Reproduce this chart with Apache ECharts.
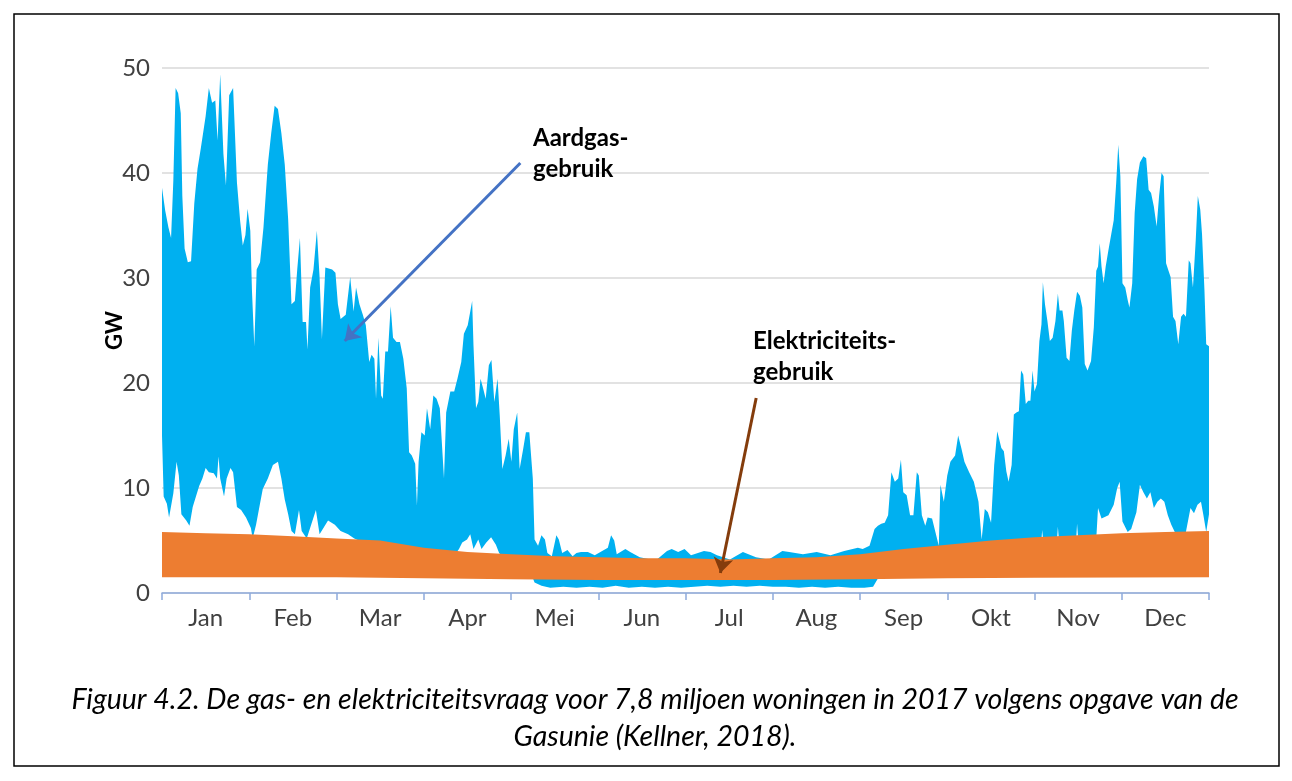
<!DOCTYPE html>
<html>
<head>
<meta charset="utf-8">
<script src="https://cdn.jsdelivr.net/npm/echarts@6/dist/echarts.min.js"></script>
<style>
html,body{margin:0;padding:0;background:#fff;}
#c{width:1292px;height:781px;}
</style>
</head>
<body>
<div id="c"></div>
<script>
// Month categories (x positions are in "month units": 0 = start of Jan, 12 = end of Dec)
var months = ['Jan','Feb','Mar','Apr','Mei','Jun','Jul','Aug','Sep','Okt','Nov','Dec'];
var yTicks = [0, 10, 20, 30, 40, 50];

// Aardgasgebruik: upper envelope [month position, GW]
var gasMax = [
 [0,38.6],[0.037,36.4],[0.074,34.8],[0.104,33.8],[0.130,39.3],[0.156,48.1],[0.185,47.6],[0.215,45.7],[0.233,37.8],[0.259,32.8],[0.296,31.5],[0.333,31.6],[0.370,37.1],[0.407,40.4],[0.444,42.3],[0.500,45.4],[0.537,48.1],[0.574,46.7],[0.611,46.9],[0.637,43.1],[0.667,49.4],[0.704,41.8],[0.733,38.8],[0.770,47.4],[0.815,48.1],[0.859,39.1],[0.896,35.4],[0.926,33.1],[0.956,34.1],[0.981,36.6],
 [1.012,34.5],[1.031,28.8],[1.058,23.5],[1.085,30.8],[1.124,31.5],[1.163,34.8],[1.213,40.8],[1.252,43.8],[1.291,46.4],[1.329,46.1],[1.368,43.8],[1.407,40.8],[1.446,35.6],[1.484,27.5],[1.523,27.8],[1.550,30.8],[1.581,33.8],[1.612,25.8],[1.651,25.8],[1.667,23.2],[1.698,29.1],[1.736,30.8],[1.775,34.5],[1.806,30.1],[1.833,24.2],[1.872,31.0],[1.950,30.8],[1.988,30.5],
 [2.016,27.5],[2.047,26.1],[2.106,26.5],[2.157,30.1],[2.196,26.8],[2.224,29.1],[2.263,27.5],[2.302,26.5],[2.336,25.5],[2.375,22.0],[2.402,22.7],[2.434,22.3],[2.453,18.5],[2.480,24.3],[2.512,18.8],[2.531,18.5],[2.559,23.0],[2.590,23.0],[2.621,27.3],[2.648,24.3],[2.688,23.9],[2.727,23.9],[2.766,22.3],[2.805,19.5],[2.832,13.4],[2.863,13.1],[2.902,12.3],[2.922,8.3],[2.941,12.5],[2.973,15.3],
 [3.011,15.0],[3.037,17.6],[3.074,15.6],[3.110,18.8],[3.147,18.5],[3.184,17.6],[3.232,10.9],[3.257,17.2],[3.305,19.2],[3.349,19.2],[3.386,20.4],[3.430,22.0],[3.460,24.7],[3.504,25.5],[3.533,26.8],[3.555,27.8],[3.570,23.6],[3.599,17.6],[3.625,18.2],[3.651,20.4],[3.680,19.5],[3.710,18.5],[3.746,21.7],[3.776,22.2],[3.809,18.2],[3.846,20.4],[3.871,16.9],[3.901,11.8],[3.938,13.1],[3.974,14.7],
 [4.004,12.5],[4.032,15.6],[4.071,17.2],[4.099,11.8],[4.139,13.7],[4.171,15.3],[4.210,15.3],[4.250,10.9],[4.270,5.1],[4.310,4.5],[4.349,5.5],[4.389,5.1],[4.417,3.8],[4.468,3.5],[4.520,5.5],[4.548,5.1],[4.587,3.8],[4.647,4.1],[4.706,3.5],[4.750,3.8],[4.802,3.9],[4.881,3.9],[4.960,3.6],
 [5.110,4.3],[5.147,5.5],[5.183,5.0],[5.212,3.7],[5.311,4.2],[5.366,3.9],[5.476,3.4],[5.659,3.1],[5.788,4.0],[5.842,4.2],[5.916,3.9],[5.989,4.2],[6.063,3.6],[6.212,4.0],[6.286,3.9],[6.361,3.6],[6.509,3.2],[6.658,3.9],[6.807,3.4],[6.955,3.2],[7.110,4.0],[7.189,3.9],[7.346,3.7],[7.504,3.9],[7.661,3.6],[7.819,4.0],[7.976,4.3],
 [8.031,4.2],[8.109,4.5],[8.167,6.1],[8.205,6.4],[8.244,6.6],[8.283,6.7],[8.322,7.4],[8.360,11.5],[8.399,10.6],[8.438,10.9],[8.469,12.7],[8.496,9.6],[8.535,9.3],[8.574,7.4],[8.612,7.4],[8.651,11.5],[8.674,11.2],[8.709,7.4],[8.748,6.4],[8.775,7.2],[8.826,7.1],[8.864,5.8],[8.903,4.5],[8.922,10.3],[8.961,8.7],
 [9.000,11.2],[9.036,12.5],[9.090,13.1],[9.125,15.0],[9.161,13.8],[9.197,12.5],[9.251,11.5],[9.305,10.6],[9.358,8.7],[9.394,5.1],[9.430,8.0],[9.466,7.7],[9.502,6.7],[9.538,12.2],[9.573,15.4],[9.620,13.8],[9.649,13.5],[9.677,11.6],[9.703,10.6],[9.738,12.2],[9.763,17.0],[9.792,17.2],[9.821,17.3],[9.846,21.2],[9.871,20.8],[9.900,18.0],[9.928,18.3],[9.953,18.3],[9.978,21.2],
 [10.000,19.2],[10.028,19.9],[10.056,24.0],[10.080,25.6],[10.096,29.6],[10.120,27.5],[10.148,25.9],[10.176,24.0],[10.208,24.3],[10.240,25.9],[10.268,28.5],[10.288,26.9],[10.320,26.9],[10.336,25.9],[10.368,22.4],[10.400,22.1],[10.428,25.0],[10.456,26.9],[10.488,28.7],[10.520,28.3],[10.548,27.2],[10.576,21.8],[10.608,21.2],[10.648,22.1],[10.680,25.3],[10.708,30.7],[10.728,31.1],[10.748,33.3],[10.768,31.1],[10.792,29.5],[10.816,31.1],[10.848,32.7],[10.880,34.2],[10.908,35.5],[10.936,39.0],[10.960,42.7],[10.984,39.7],
 [11.008,29.5],[11.040,29.1],[11.068,27.9],[11.088,27.2],[11.120,29.5],[11.148,36.2],[11.176,39.4],[11.208,41.0],[11.248,41.6],[11.280,41.4],[11.308,38.4],[11.336,38.1],[11.368,36.8],[11.400,34.9],[11.428,37.8],[11.456,40.0],[11.480,39.7],[11.508,31.4],[11.536,30.7],[11.560,30.1],[11.588,26.3],[11.616,25.9],[11.648,23.7],[11.680,26.3],[11.708,26.6],[11.736,26.3],[11.768,31.7],[11.788,31.4],[11.816,29.1],[11.848,33.6],[11.872,37.8],[11.900,36.5],[11.920,34.2],[11.948,28.8],[11.968,23.7],[12.0,23.5]
];

// Aardgasgebruik: lower envelope [month position, GW]
var gasMin = [
 [0,15.0],[0.019,9.2],[0.056,8.5],[0.081,7.2],[0.130,9.5],[0.167,12.5],[0.193,11.2],[0.222,7.5],[0.278,6.9],[0.315,6.4],[0.352,8.2],[0.389,9.2],[0.426,10.2],[0.463,10.9],[0.500,11.9],[0.537,11.5],[0.593,11.4],[0.630,10.9],[0.648,13.0],[0.667,10.9],[0.711,9.2],[0.741,10.9],[0.785,11.9],[0.815,11.5],[0.859,8.2],[0.907,7.9],[0.963,7.2],
 [1.019,6.2],[1.039,5.2],[1.078,6.5],[1.116,8.2],[1.155,9.9],[1.213,10.9],[1.271,12.2],[1.329,12.5],[1.368,10.9],[1.407,8.9],[1.446,7.5],[1.484,5.9],[1.523,5.6],[1.570,7.9],[1.601,5.9],[1.659,5.2],[1.764,7.9],[1.806,5.6],[1.903,6.9],[1.981,6.5],
 [2.047,5.9],[2.133,5.6],[2.204,5.2],[2.282,4.9],[2.345,4.7],[2.5,3.0],[3.3,3.0],
 [3.404,4.2],[3.441,4.8],[3.496,5.1],[3.533,5.6],[3.570,4.2],[3.625,5.1],[3.662,4.2],[3.717,4.8],[3.772,5.3],[3.827,4.6],[3.864,3.8],[3.95,3.0],
 [4.2,2.5],[4.27,1.0],[4.35,0.7],[4.45,0.5],[4.60,0.6],[4.75,0.5],[4.90,0.6],[5.05,0.5],[5.20,0.7],[5.35,0.5],[5.50,0.6],[5.65,0.5],[5.80,0.6],[5.95,0.5],[6.10,0.6],[6.25,0.7],[6.40,0.6],[6.55,0.7],[6.70,0.6],[6.85,0.7],[7.00,0.6],[7.15,0.6],[7.30,0.5],[7.45,0.6],[7.60,0.5],[7.75,0.6],[7.90,0.5],[8.05,0.5],[8.15,0.6],[8.20,1.3],[8.25,2.0],
 [10.0,3.0],[10.07,4.0],[10.088,6.0],[10.11,4.0],[10.25,4.0],[10.268,6.3],[10.29,4.0],[10.47,4.0],[10.488,6.6],[10.51,4.0],[10.70,4.0],
 [10.728,8.1],[10.768,7.1],[10.848,7.4],[10.908,8.4],[10.948,10.0],[10.976,10.6],[11.008,6.8],[11.068,5.8],[11.108,6.1],[11.168,7.7],[11.208,10.3],[11.248,9.6],[11.288,9.0],[11.328,9.6],[11.368,8.1],[11.408,8.7],[11.448,9.0],[11.488,8.7],[11.528,7.4],[11.568,6.5],[11.608,5.8],[11.668,5.8],[11.728,5.5],[11.788,8.1],[11.828,7.6],[11.868,8.4],[11.908,8.7],[11.936,7.4],[11.968,5.8],[12.0,7.5]
];

// Elektriciteitsgebruik: band top and bottom [month position, GW]
var elecTop = [
 [0,5.8],[0.5,5.7],[1.0,5.6],[1.5,5.4],[2.0,5.2],[2.5,5.0],[3.0,4.3],[3.5,3.9],[4.0,3.7],[4.5,3.5],[5.0,3.4],[5.5,3.3],[6.0,3.3],[6.5,3.2],[7.0,3.3],[7.5,3.4],[8.0,3.7],[8.5,4.2],[9.0,4.6],[9.5,5.0],[10.0,5.3],[10.5,5.5],[11.0,5.7],[11.5,5.8],[12.0,5.9]
];
var elecBottom = [
 [0,1.5],[2.0,1.5],[3.0,1.4],[4.0,1.3],[5.0,1.25],[7.0,1.25],[8.0,1.3],[9.0,1.4],[10.0,1.45],[12.0,1.5]
];

// annotation arrows [month position, GW]
var gasArrow = [[4.107, 40.95], [2.094, 24.0]];
var elecArrow = [[6.81, 18.57], [6.40, 1.9]];

function band(name, upper, lower, color, z) {
  return {
    name: name,
    type: 'custom',
    coordinateSystem: 'cartesian2d',
    xAxisIndex: 0,
    yAxisIndex: 0,
    z: z,
    silent: true,
    clip: true,
    data: [[0, 0]],
    encode: { x: 0, y: 1 },
    renderItem: function (params, api) {
      var pts = upper.map(function (p) { return api.coord(p); });
      for (var i = lower.length - 1; i >= 0; i--) pts.push(api.coord(lower[i]));
      return { type: 'polygon', shape: { points: pts }, style: { fill: color } };
    }
  };
}

var chart = echarts.init(document.getElementById('c'), null, { renderer: 'canvas' });
var FONT = 'Lato, "Open Sans", sans-serif';

chart.setOption({
  animation: false,
  backgroundColor: '#ffffff',
  grid: { left: 162, right: 83, top: 68, bottom: 188, containLabel: false },
  xAxis: [
    {
      type: 'value', min: 0, max: months.length, interval: 1,
      axisLine: { show: true, lineStyle: { color: '#8FAADC', width: 1.5 } },
      axisTick: { show: true, length: 7, lineStyle: { color: '#8FAADC', width: 1.5 } },
      axisLabel: { show: false },
      splitLine: { show: false }
    },
    {
      type: 'category', data: months, boundaryGap: true, position: 'bottom',
      axisLine: { show: false }, axisTick: { show: false },
      axisLabel: { color: '#404040', fontSize: 24, fontFamily: FONT, margin: 13 },
      splitLine: { show: false }
    }
  ],
  yAxis: {
    type: 'value', min: yTicks[0], max: yTicks[yTicks.length - 1], interval: yTicks[1] - yTicks[0],
    name: 'GW', nameLocation: 'middle', nameGap: 36, nameRotate: 90, nameMoveOverlap: false,
    nameTextStyle: { fontSize: 22, fontWeight: 'bold', color: '#000', fontFamily: FONT },
    axisLine: { show: false }, axisTick: { show: false },
    axisLabel: { color: '#404040', fontSize: 24, fontFamily: FONT, margin: 12 },
    splitLine: { lineStyle: { color: '#D9D9D9', width: 1.5 } }
  },
  series: [
    band('Aardgasgebruik', gasMax, gasMin, '#00B0F0', 2),
    band('Elektriciteitsgebruik', elecTop, elecBottom, '#ED7D31', 3),
    {
      type: 'line', data: [], xAxisIndex: 0, yAxisIndex: 0, z: 5,
      markLine: {
        silent: true, animation: false,
        symbol: ['none', 'arrow'], symbolSize: 15,
        label: { show: false },
        emphasis: { disabled: true },
        data: [
          [{ coord: gasArrow[0], lineStyle: { color: '#4472C4', width: 3, type: 'solid' } }, { coord: gasArrow[1] }],
          [{ coord: elecArrow[0], lineStyle: { color: '#843C0C', width: 3, type: 'solid' } }, { coord: elecArrow[1] }]
        ]
      }
    }
  ],
  graphic: [
    { type: 'rect', shape: { x: 14, y: 14, width: 1265, height: 752 }, style: { fill: 'none', stroke: '#000', lineWidth: 1.5 }, z: 10 },
    { type: 'text', x: 533, y: 138.5, style: { text: 'Aardgas-', font: 'bold 24px ' + FONT, fill: '#000', align: 'left', verticalAlign: 'middle' }, z: 10 },
    { type: 'text', x: 533, y: 169.5, style: { text: 'gebruik', font: 'bold 24px ' + FONT, fill: '#000', align: 'left', verticalAlign: 'middle' }, z: 10 },
    { type: 'text', x: 753, y: 341, style: { text: 'Elektriciteits-', font: 'bold 24px ' + FONT, fill: '#000', align: 'left', verticalAlign: 'middle' }, z: 10 },
    { type: 'text', x: 753, y: 372, style: { text: 'gebruik', font: 'bold 24px ' + FONT, fill: '#000', align: 'left', verticalAlign: 'middle' }, z: 10 },
    { type: 'text', x: 655, y: 700, style: { text: 'Figuur 4.2. De gas- en elektriciteitsvraag voor 7,8 miljoen woningen in 2017 volgens opgave van de', font: 'italic 28.5px ' + FONT, fill: '#000', align: 'center', verticalAlign: 'middle' }, z: 10 },
    { type: 'text', x: 655, y: 737, style: { text: 'Gasunie (Kellner, 2018).', font: 'italic 28.5px ' + FONT, fill: '#000', align: 'center', verticalAlign: 'middle' }, z: 10 }
  ]
});
</script>
</body>
</html>
